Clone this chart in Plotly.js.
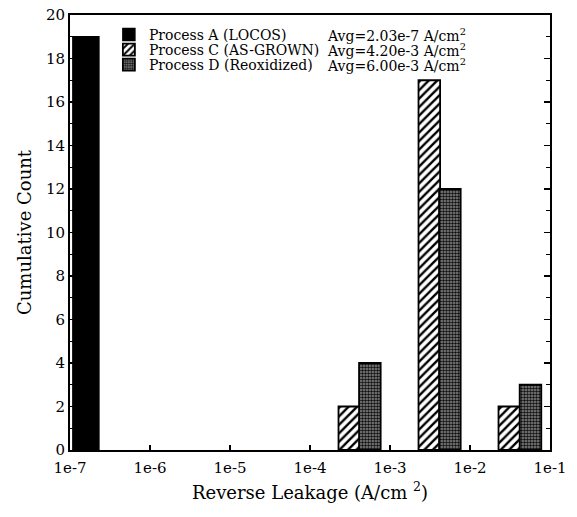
<!DOCTYPE html>
<html>
<head>
<meta charset="utf-8">
<script src="https://cdn.plot.ly/plotly-3.0.1.min.js"></script>
<style>html,body{margin:0;padding:0;background:#fff;}#chart{width:577px;height:517px;}</style>
</head>
<body>
<div id="chart"></div>
<script>
// Data (leakage bin positions in A/cm^2, counts)
var seriesNames = ['Process A (LOCOS)', 'Process C (AS-GROWN)', 'Process D (Reoxidized)'];
var avgLabels = ['Avg=2.03e-7 A/cm<sup>2</sup>', 'Avg=4.20e-3 A/cm<sup>2</sup>', 'Avg=6.00e-3 A/cm<sup>2</sup>'];
var leakageA = [1.58e-7];
var countA = [19];
var leakageC = [3.1e-4, 3.1e-3, 3.1e-2];
var countC = [2, 17, 2];
var leakageD = [5.6e-4, 5.6e-3, 5.7e-2];
var countD = [4, 12, 3];
var tickValues = [1e-7, 1e-6, 1e-5, 1e-4, 1e-3, 1e-2, 1e-1];
var tickLabels = ['1e-7', '1e-6', '1e-5', '1e-4', '1e-3', '1e-2', '1e-1'];

var FONT = 'DejaVu Serif, Liberation Serif, serif';
function lg(arr) { return arr.map(function (v) { return Math.log10(v); }); }

var traces = [
  {
    type: 'bar', name: seriesNames[0], legend: 'legend', x: lg(leakageA), y: countA, width: 0.325,
    marker: { color: '#000', line: { color: '#000', width: 1.5 } }
  },
  {
    type: 'bar', name: seriesNames[1], legend: 'legend2', x: lg(leakageC), y: countC, width: 0.27,
    marker: { color: '#fff', line: { color: '#000', width: 1.8 },
      pattern: { shape: '/', fgcolor: '#000', bgcolor: '#fff', size: 6, solidity: 0.4 } }
  },
  {
    type: 'bar', name: seriesNames[2], legend: 'legend3', x: lg(leakageD), y: countD, width: 0.27,
    marker: { color: '#666', line: { color: '#000', width: 1.8 },
      pattern: { shape: '.', fgcolor: '#111', bgcolor: '#8c8c8c', size: 3, solidity: 0.55 } }
  }
];

var rowY = [0.954, 0.9195, 0.885];
var legX = 0.081;
function legendAt(y) {
  return {
    x: legX, y: y, xanchor: 'left', yanchor: 'middle',
    bgcolor: 'rgba(0,0,0,0)', borderwidth: 0,
    font: { family: FONT, size: 14, color: '#000' }
  };
}

var annotations = avgLabels.map(function (t, i) {
  return {
    xref: 'paper', yref: 'paper', x: 0.532, y: rowY[i],
    xanchor: 'left', yanchor: 'middle', showarrow: false, text: t,
    font: { family: FONT, size: 14, color: '#000' }
  };
});

var layout = {
  width: 577, height: 517,
  margin: { l: 70, r: 27, t: 15, b: 67 },
  paper_bgcolor: '#fff', plot_bgcolor: '#fff',
  barmode: 'overlay',
  showlegend: true,
  legend: legendAt(rowY[0]),
  legend2: legendAt(rowY[1]),
  legend3: legendAt(rowY[2]),
  font: { family: FONT, color: '#000' },
  xaxis: {
    range: [-7, -1], tickmode: 'array',
    tickvals: lg(tickValues), ticktext: tickLabels,
    ticks: 'inside', ticklen: 5, tickwidth: 1.5, tickcolor: '#000',
    ticklabelstandoff: 3,
    showline: true, linecolor: '#000', linewidth: 2, mirror: true,
    showgrid: false, zeroline: false,
    tickfont: { family: FONT, size: 15, color: '#000' },
    title: { text: 'Reverse Leakage (A/cm <sup>2</sup>)', font: { family: FONT, size: 18, color: '#000' }, standoff: 10 }
  },
  yaxis: {
    range: [0, 20], dtick: 2, tick0: 0,
    ticks: 'inside', ticklen: 6, tickwidth: 1.5, tickcolor: '#000',
    minor: { dtick: 1, ticks: 'inside', ticklen: 4, tickcolor: '#000', tickwidth: 1 },
    showline: true, linecolor: '#000', linewidth: 2, mirror: 'ticks',
    showgrid: false, zeroline: false,
    tickfont: { family: FONT, size: 15, color: '#000' },
    title: { text: 'Cumulative Count', font: { family: FONT, size: 18, color: '#000' }, standoff: 10 }
  },
  annotations: annotations
};

Plotly.newPlot('chart', traces, layout, { displayModeBar: false, staticPlot: true });
</script>
</body>
</html>
